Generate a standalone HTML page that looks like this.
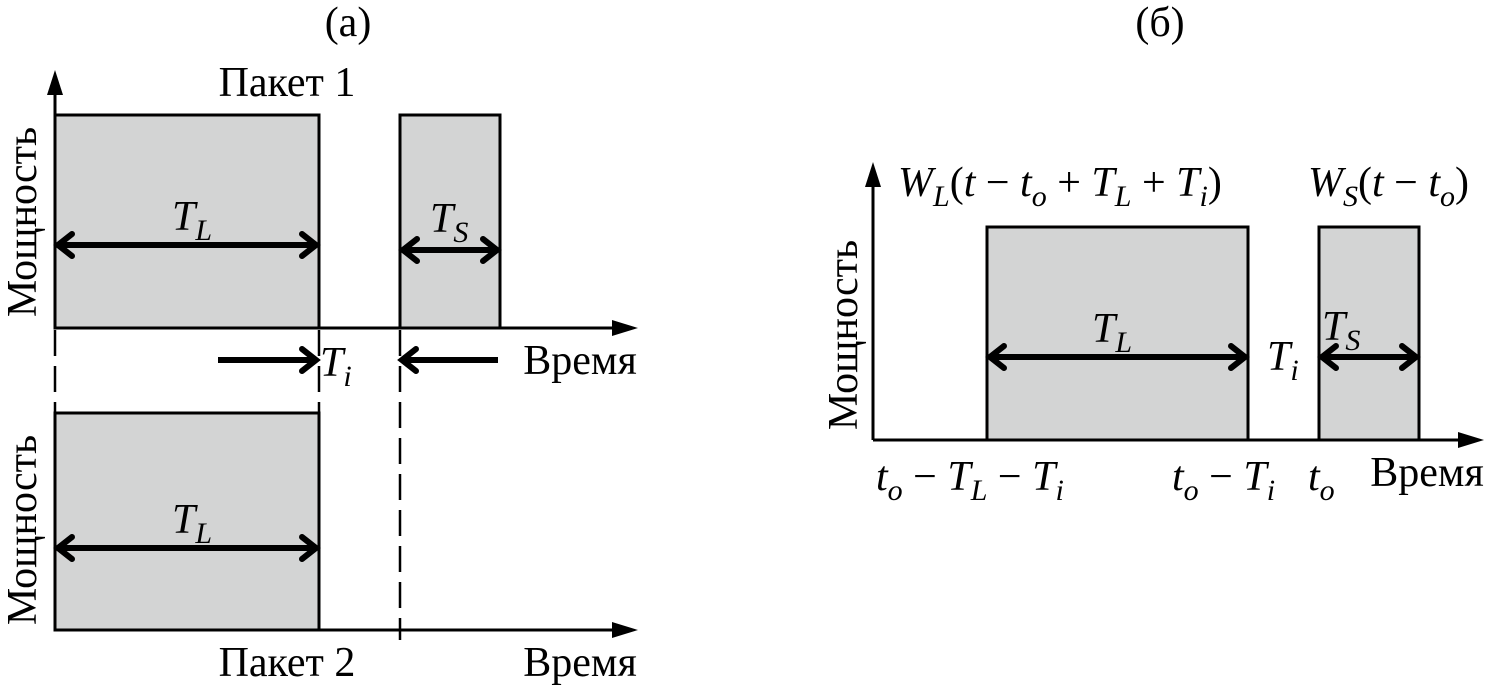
<!DOCTYPE html>
<html><head><meta charset="utf-8"><style>body{margin:0;background:#fff}</style></head><body>
<svg width="1488" height="689" xmlns="http://www.w3.org/2000/svg" font-family="Liberation Serif, serif" font-size="42">
<defs>
<g id="chev"><path d="M-14,-11 L0,0 L-14,11" fill="none" stroke="#000" stroke-width="6" stroke-linecap="round"/></g>
</defs>
<g stroke="#000" stroke-width="3">
<rect x="55" y="115" width="264" height="213" fill="#d3d4d4"/>
<rect x="400" y="115" width="100" height="213" fill="#d3d4d4"/>
<rect x="55" y="413" width="264" height="217" fill="#d3d4d4"/>
<line x1="55" y1="328" x2="55" y2="80"/>
<line x1="55" y1="328" x2="625" y2="328"/>
<line x1="55" y1="630" x2="625" y2="630"/>
<g stroke-dasharray="26,10" stroke-width="2.5">
<line x1="55" y1="330" x2="55" y2="413"/>
<line x1="319" y1="330" x2="319" y2="413"/>
<line x1="400" y1="330" x2="400" y2="640"/>
</g>
<rect x="987" y="227" width="261" height="213" fill="#d3d4d4"/>
<rect x="1319" y="227" width="100" height="213" fill="#d3d4d4"/>
<line x1="873" y1="440" x2="873" y2="172"/>
<line x1="873" y1="440" x2="1470" y2="440"/>
</g>
<g fill="#000">
<path d="M55,70 L47,95 L63,95 Z"/>
<path d="M638,328 L612,320 L612,336 Z"/>
<path d="M638,630 L612,622 L612,638 Z"/>
<path d="M873,162 L865,187 L881,187 Z"/>
<path d="M1484,440 L1458,432 L1458,448 Z"/>
</g>
<g stroke="#000" stroke-width="6">
<line x1="58" y1="245" x2="316" y2="245"/>
<line x1="403" y1="250" x2="497" y2="250"/>
<line x1="58" y1="548" x2="316" y2="548"/>
<line x1="218" y1="360" x2="316" y2="360"/>
<line x1="402" y1="360" x2="498" y2="360"/>
<line x1="990" y1="357" x2="1245" y2="357"/>
<line x1="1322" y1="357" x2="1416" y2="357"/>
</g>
<use href="#chev" x="316" y="245"/><use href="#chev" transform="translate(58,245) scale(-1,1)"/>
<use href="#chev" x="497" y="250"/><use href="#chev" transform="translate(403,250) scale(-1,1)"/>
<use href="#chev" x="316" y="548"/><use href="#chev" transform="translate(58,548) scale(-1,1)"/>
<use href="#chev" x="316" y="360"/><use href="#chev" transform="translate(402,360) scale(-1,1)"/>
<use href="#chev" x="1245" y="357"/><use href="#chev" transform="translate(990,357) scale(-1,1)"/>
<use href="#chev" x="1416" y="357"/><use href="#chev" transform="translate(1322,357) scale(-1,1)"/>
<text x="348" y="36" text-anchor="middle">(a)</text>
<text x="1160" y="36" text-anchor="middle">(б)</text>
<text x="287" y="96" text-anchor="middle">Пакет 1</text>
<text x="287" y="676" text-anchor="middle">Пакет 2</text>
<text x="580" y="374" text-anchor="middle">Время</text>
<text x="580" y="676" text-anchor="middle">Время</text>
<text x="1427" y="486" text-anchor="middle">Время</text>
<text transform="translate(36,222) rotate(-90)" text-anchor="middle">Мощность</text>
<text transform="translate(36,530) rotate(-90)" text-anchor="middle">Мощность</text>
<text transform="translate(857,335) rotate(-90)" text-anchor="middle">Мощность</text>
<g font-style="italic">
<text x="172" y="230">T<tspan font-size="30" dy="10">L</tspan></text>
<text x="172" y="533">T<tspan font-size="30" dy="10">L</tspan></text>
<text x="430" y="232">T<tspan font-size="30" dy="10">S</tspan></text>
<text x="320" y="376">T<tspan font-size="30" dy="10">i</tspan></text>
<text x="1092" y="342">T<tspan font-size="30" dy="10">L</tspan></text>
<text x="1322" y="340">T<tspan font-size="30" dy="10">S</tspan></text>
<text x="1267" y="370">T<tspan font-size="30" dy="10">i</tspan></text>
<text x="898" y="196">W<tspan font-size="30" dy="10">L</tspan><tspan dy="-10" font-style="normal">(</tspan>t <tspan font-style="normal">−</tspan> t<tspan font-size="30" dy="10">o</tspan><tspan dy="-10" font-style="normal"> + </tspan>T<tspan font-size="30" dy="10">L</tspan><tspan dy="-10" font-style="normal"> + </tspan>T<tspan font-size="30" dy="10">i</tspan><tspan dy="-10" font-style="normal">)</tspan></text>
<text x="1308" y="196">W<tspan font-size="30" dy="10">S</tspan><tspan dy="-10" font-style="normal">(</tspan>t <tspan font-style="normal">−</tspan> t<tspan font-size="30" dy="10">o</tspan><tspan dy="-10" font-style="normal">)</tspan></text>
<text x="876" y="490">t<tspan font-size="30" dy="10">o</tspan><tspan dy="-10" font-style="normal"> − </tspan>T<tspan font-size="30" dy="10">L</tspan><tspan dy="-10" font-style="normal"> − </tspan>T<tspan font-size="30" dy="10">i</tspan></text>
<text x="1172" y="490">t<tspan font-size="30" dy="10">o</tspan><tspan dy="-10" font-style="normal"> − </tspan>T<tspan font-size="30" dy="10">i</tspan></text>
<text x="1308" y="490">t<tspan font-size="30" dy="10">o</tspan></text>
</g>
</svg>
</body></html>
